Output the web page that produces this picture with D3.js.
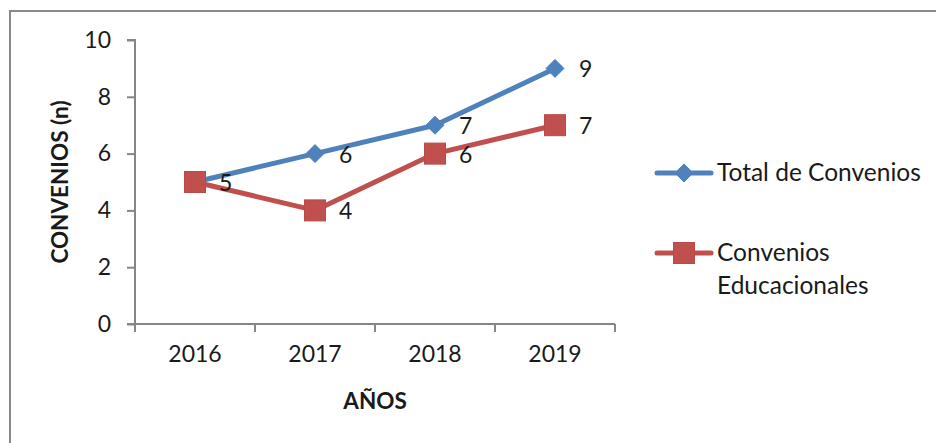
<!DOCTYPE html>
<html>
<head>
<meta charset="utf-8">
<script src="https://cdn.jsdelivr.net/npm/d3@7"></script>
<style>
html,body{margin:0;padding:0;background:#fff;}
svg{display:block;font-family:Lato, "Open Sans", sans-serif;}
</style>
</head>
<body>
<svg id="chart" width="936" height="443"></svg>
<script>
const years = ["2016", "2017", "2018", "2019"];
const totalConvenios = [5, 6, 7, 9];
const convEducacionales = [5, 4, 6, 7];
const yTicks = [0, 2, 4, 6, 8, 10];
const seriesNames = ["Total de Convenios", "Convenios Educacionales"];
const seriesColors = ["#4F81BD", "#C0504D"];

const svg = d3.select("#chart");
const textColor = "#1a1a1a";
const axisColor = "#868686";

// outer frame
svg.append("path")
  .attr("d", "M10,443 L10,11 L936,11")
  .attr("fill", "none").attr("stroke", "#898989").attr("stroke-width", 2);

const plot = {left: 135, right: 615, top: 40, bottom: 324};
const x = d3.scaleBand().domain(years).range([plot.left, plot.right]);
const y = d3.scaleLinear().domain([0, 10]).range([plot.bottom, plot.top]);

// y axis
const yAxis = svg.append("g").attr("transform", `translate(${plot.left},0)`)
  .call(d3.axisLeft(y).tickValues(yTicks).tickSize(8).tickPadding(16));
yAxis.select(".domain").attr("stroke", axisColor).attr("stroke-width", 2).attr("d", `M-8,${plot.top}H0V${plot.bottom}`);
yAxis.selectAll(".tick line").attr("stroke", axisColor).attr("stroke-width", 2);
yAxis.selectAll(".tick text").attr("fill", textColor).style("font-size", "23px").style("font-family", "Lato");

// x axis
const xAxis = svg.append("g").attr("transform", `translate(0,${plot.bottom})`)
  .call(d3.axisBottom(x).tickSize(0).tickPadding(22));
xAxis.select(".domain").attr("stroke", axisColor).attr("stroke-width", 2).attr("d", `M${plot.left-8},0H${plot.right}`);
xAxis.selectAll(".tick text").attr("fill", textColor).style("font-size", "23px").style("font-family", "Lato");
// category boundary ticks
const bounds = years.map(d => x(d)).concat([x(years[years.length-1]) + x.bandwidth()]);
xAxis.selectAll(".bt").data(bounds).enter().append("line")
  .attr("x1", d => d).attr("x2", d => d).attr("y1", 0).attr("y2", 8)
  .attr("stroke", axisColor).attr("stroke-width", 2);

// axis titles
svg.append("text").attr("x", 375).attr("y", 409).attr("text-anchor", "middle")
  .attr("fill", textColor).style("font-weight", "bold").style("font-size", "22.5px").text("AÑOS");
svg.append("text").attr("transform", "translate(68,182) rotate(-90)").attr("text-anchor", "middle")
  .attr("fill", textColor).style("font-weight", "bold").style("font-size", "22.5px").text("CONVENIOS (n)");

const cx = d => x(d) + x.bandwidth()/2;
const series = [totalConvenios, convEducacionales];
const line = d3.line().x((d, i) => cx(years[i])).y(d => y(d));

function drawMarker(g, k, px, py) {
  if (k === 0) {
    const s = 9;
    g.append("path").attr("d", `M${px},${py-s}L${px+s},${py}L${px},${py+s}L${px-s},${py}Z`)
      .attr("fill", seriesColors[0]).attr("stroke", seriesColors[0]).attr("stroke-width", 1);
  } else {
    const s = 10.5;
    g.append("rect").attr("x", px - s).attr("y", py - s).attr("width", 2*s).attr("height", 2*s)
      .attr("fill", seriesColors[1]).attr("stroke", "#B84A47").attr("stroke-width", 1);
  }
}

// draw blue first, then red on top
series.forEach((vals, k) => {
  const g = svg.append("g");
  g.append("path").datum(vals).attr("d", line).attr("fill", "none")
    .attr("stroke", seriesColors[k]).attr("stroke-width", 5).attr("stroke-linejoin", "round");
  vals.forEach((v, i) => drawMarker(g, k, cx(years[i]), y(v)));
});
// data labels
series.forEach((vals, k) => {
  vals.forEach((v, i) => {
    if (k === 0 && i === 0) return; // overlapping label shown once
    svg.append("text").attr("x", cx(years[i]) + 24).attr("y", y(v) + 9)
      .attr("fill", textColor).style("font-size", "23px").text(v);
  });
});

// legend
const legendY = [173, 253];
seriesNames.forEach((name, k) => {
  const g = svg.append("g");
  g.append("line").attr("x1", 657).attr("x2", 711).attr("y1", legendY[k]).attr("y2", legendY[k])
    .attr("stroke", seriesColors[k]).attr("stroke-width", 5).attr("stroke-linecap", "round");
  drawMarker(g, k, 684, legendY[k]);
  const t = g.append("text").attr("x", 717).attr("y", legendY[k] + 8).attr("fill", textColor).style("font-size", "24.5px");
  if (k === 0) t.text(name);
  else {
    const parts = name.split(" ");
    t.append("tspan").attr("x", 717).text(parts[0]);
    t.append("tspan").attr("x", 717).attr("dy", 33).text(parts[1]);
  }
});
</script>
</body>
</html>
